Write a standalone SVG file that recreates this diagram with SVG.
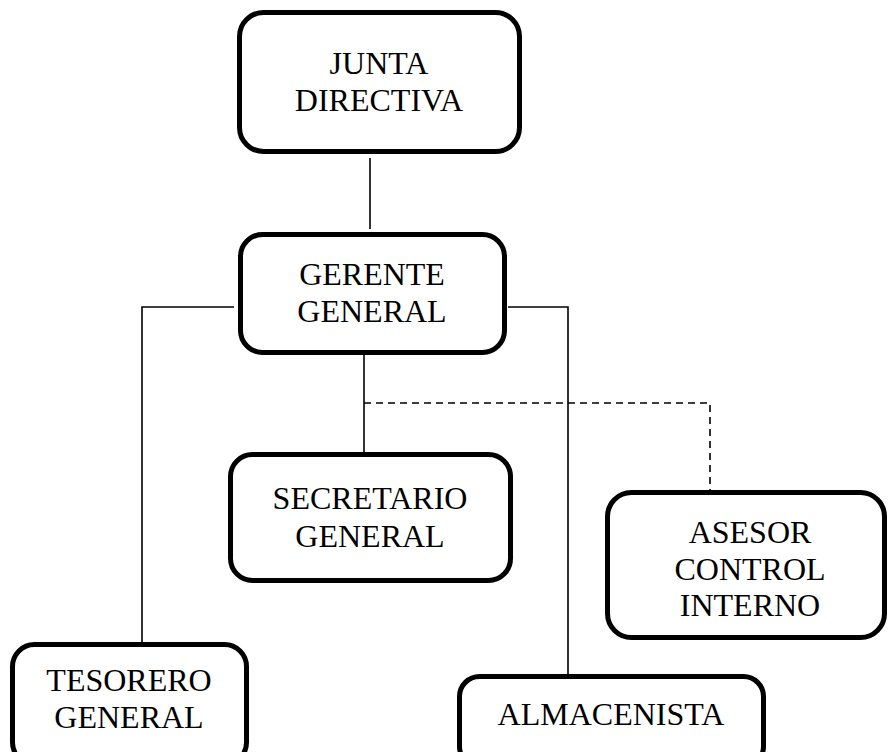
<svg xmlns="http://www.w3.org/2000/svg" width="888" height="752" viewBox="0 0 888 752">
<style>
.box{fill:#fff;stroke:#000;stroke-width:5}
.t{font-family:"Liberation Serif","Times New Roman",serif;font-size:32px;fill:#000;text-anchor:middle}
.ln{fill:none;stroke:#000;stroke-width:1.6}
.dash{fill:none;stroke:#000;stroke-width:1.6;stroke-dasharray:7,5}
</style>
<rect width="888" height="752" fill="#fff"/>
<g id="connectors">
<line class="ln" x1="370" y1="158" x2="370" y2="229"/>
<polyline class="ln" points="234,307 142,307 142,648"/>
<polyline class="ln" points="508,307 568,307 568,676"/>
<line class="ln" x1="364" y1="355" x2="364" y2="452"/>
<polyline class="dash" points="364,403 710,403 710,498"/>
</g>
<g id="junta">
<rect class="box" x="239.5" y="12.5" width="280" height="139" rx="24"/>
<text class="t" x="379" y="74">JUNTA</text>
<text class="t" x="379" y="111">DIRECTIVA</text>
</g>
<g id="gerente">
<rect class="box" x="240.5" y="234.5" width="264" height="118" rx="22"/>
<text class="t" x="372" y="285">GERENTE</text>
<text class="t" x="372" y="322">GENERAL</text>
</g>
<g id="secretario">
<rect class="box" x="230.5" y="454.5" width="280" height="126" rx="22"/>
<text class="t" x="370" y="509">SECRETARIO</text>
<text class="t" x="370" y="547">GENERAL</text>
</g>
<g id="asesor">
<rect class="box" x="607.5" y="492.5" width="277" height="145" rx="24"/>
<text class="t" x="750" y="543">ASESOR</text>
<text class="t" x="750" y="580">CONTROL</text>
<text class="t" x="750" y="616">INTERNO</text>
</g>
<g id="tesorero">
<rect class="box" x="12.5" y="644.5" width="234" height="120" rx="22"/>
<text class="t" x="129" y="691">TESORERO</text>
<text class="t" x="129" y="728">GENERAL</text>
</g>
<g id="almacenista">
<rect class="box" x="459.5" y="676.5" width="304" height="90" rx="20"/>
<text class="t" x="611" y="725">ALMACENISTA</text>
</g>
</svg>
